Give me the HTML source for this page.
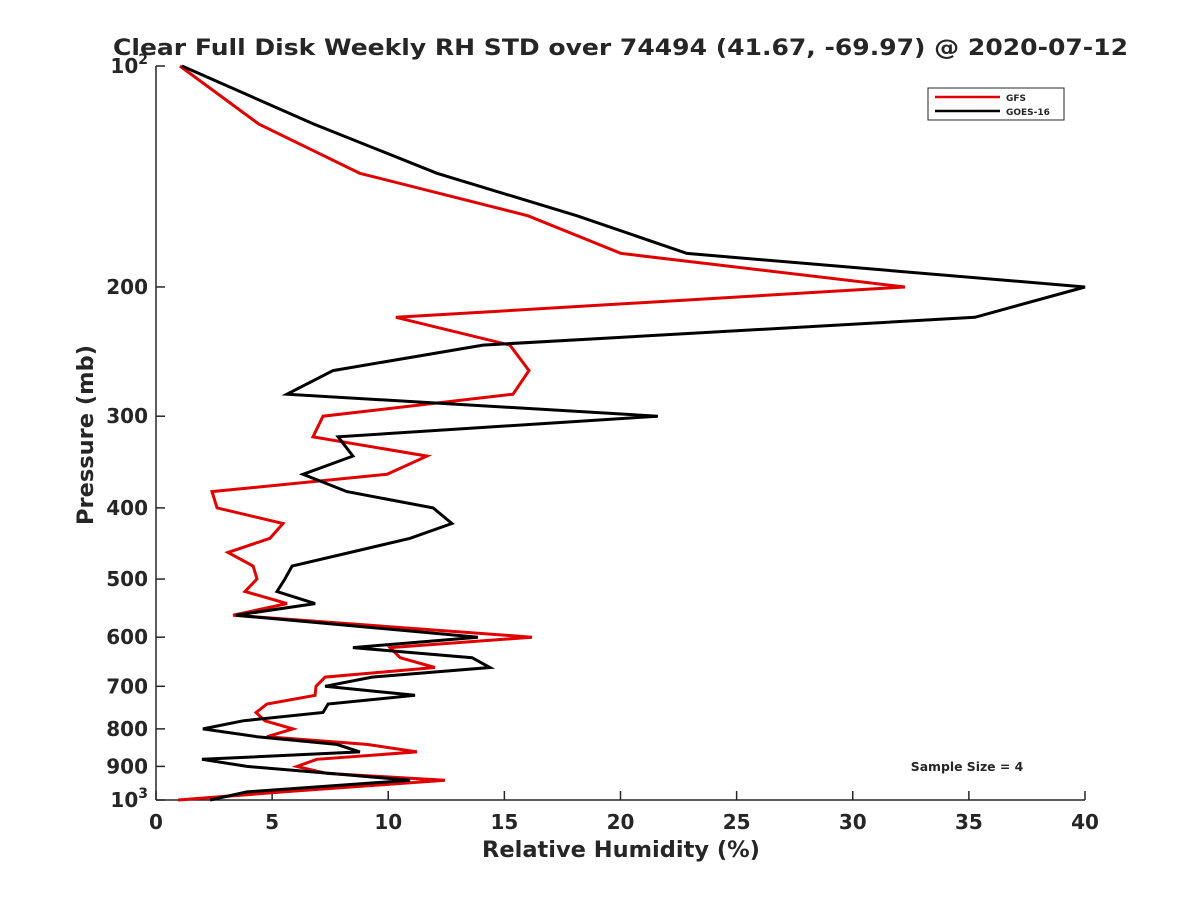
<!DOCTYPE html>
<html><head><meta charset="utf-8"><style>
body{margin:0;background:#fff;}
svg text{font-family:"DejaVu Sans","Liberation Sans",sans-serif;font-weight:bold;fill:#262626;}
</style></head><body>
<svg id="chart" width="1200" height="900" xmlns="http://www.w3.org/2000/svg">
<rect width="1200" height="900" fill="#fff"/>
<text x="113" y="55" font-size="22" textLength="1015" lengthAdjust="spacingAndGlyphs" fill="#000">Clear Full Disk Weekly RH STD over 74494 (41.67, -69.97) @ 2020-07-12</text>
<g id="axes"></g>
<g id="lines"></g>
<g>
<rect x="928" y="88" width="136" height="32" fill="#fff" stroke="#262626" stroke-width="1"/>
<line x1="935" y1="97" x2="1000" y2="97" stroke="#e00000" stroke-width="2.5"/>
<text x="1006" y="101" font-size="9">GFS</text>
<line x1="935" y1="111" x2="1000" y2="111" stroke="#000" stroke-width="2.5"/>
<text x="1006" y="115" font-size="9">GOES-16</text>
</g>
<text x="967" y="771" text-anchor="middle" font-size="12.4" fill="#000">Sample Size = 4</text>
<text x="621" y="857" text-anchor="middle" font-size="22.5">Relative Humidity (%)</text>
<text transform="translate(93,435) rotate(-90)" text-anchor="middle" font-size="22.5">Pressure (mb)</text>
</svg>
<script>
const pressures=[100,120,140,160,180,200,220,240,260,280,300,320,340,360,380,400,420,440,460,480,500,520,540,560,600,620,640,660,680,700,720,740,760,780,800,820,840,860,880,900,920,940,975,1000];
const gfsValues=[1.03,4.43,8.78,16.02,20.02,32.25,10.33,15.24,16.06,15.37,7.19,6.76,11.67,9.95,2.41,2.63,5.47,4.91,3.10,4.18,4.35,3.83,5.64,3.32,16.19,10.08,10.51,12.01,7.28,6.89,6.85,4.78,4.31,4.69,5.90,4.78,9.08,11.24,6.93,6.07,7.36,12.44,5.47,0.95];
const goesValues=[1.12,6.80,12.10,18.13,22.86,40.0,35.26,14.08,7.62,5.64,21.61,7.84,8.48,6.33,8.22,11.93,12.74,10.94,8.35,5.86,5.55,5.21,6.85,3.44,13.86,8.48,13.61,14.38,9.30,7.28,11.15,7.41,7.19,3.75,2.02,4.35,7.79,8.78,1.98,3.92,7.49,10.94,3.92,2.33];
const xTicks=[0,5,10,15,20,25,30,35,40];
const yTicks=[100,200,300,400,500,600,700,800,900,1000];
const X0=156,X1=1085,Y0=66,Y1=800;
function xs(v){return X0+(v-0)/(40-0)*(X1-X0);}
function ys(p){return Y0+Math.log10(p/100)*(Y1-Y0);}
const NS="http://www.w3.org/2000/svg";
const axes=document.getElementById('axes');
const lines=document.getElementById('lines');
function mk(tag,attrs,parent){const e=document.createElementNS(NS,tag);for(const k in attrs)e.setAttribute(k,attrs[k]);parent.appendChild(e);return e;}
const xa=mk('line',{x1:X0,y1:Y1,x2:X1,y2:Y1,stroke:'#262626','stroke-width':1.5},axes);


const ya=mk('line',{x1:X0,y1:Y0,x2:X0,y2:Y1,stroke:'#262626','stroke-width':1.5},axes);


xTicks.forEach(t=>{
  const x=xs(t);
  const tk=mk('line',{x1:x,y1:Y1,x2:x,y2:Y1-9,stroke:'#262626','stroke-width':1.5},axes);
  
  
  const tx=mk('text',{x:x,y:Y1+29,'text-anchor':'middle','font-size':20},axes);
  tx.textContent=t;
  
  
});
yTicks.forEach(t=>{
  const y=ys(t);
  const tk=mk('line',{x1:X0,y1:y,x2:X0+9,y2:y,stroke:'#262626','stroke-width':1.5},axes);
  
  
  const tx=mk('text',{x:X0-8,y:y+7,'text-anchor':'end','font-size':20},axes);
  if(t===100||t===1000){
    tx.textContent='10';
    const s=mk('tspan',{dy:-9,'font-size':14},tx);
    s.textContent=t===100?'2':'3';
  } else tx.textContent=t;
  
  
});
function drawSeries(vals,color,name){
  const pts=vals.map((v,i)=>xs(v).toFixed(1)+','+ys(pressures[i]).toFixed(1)).join(' ');
  const pl=mk('polyline',{points:pts,fill:'none',stroke:color,'stroke-width':3,'stroke-linejoin':'miter'},lines);
  
  
}
drawSeries(gfsValues,'#e00000','gfs-line');
drawSeries(goesValues,'#000000','goes16-line');
</script>
</body></html>
